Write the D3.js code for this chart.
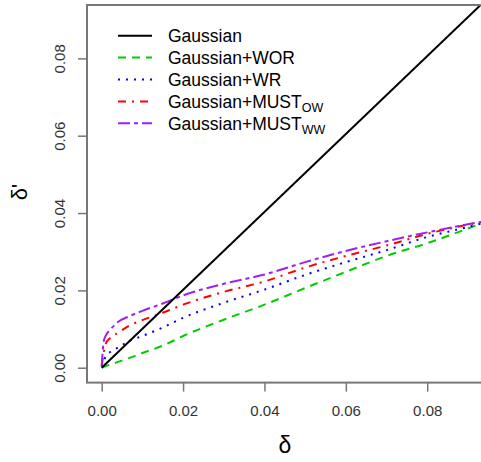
<!DOCTYPE html>
<html>
<head>
<meta charset="utf-8">
<script src="https://cdn.jsdelivr.net/npm/d3@7"></script>
<style>
  html, body { margin: 0; padding: 0; background: #fff; }
  svg { display: block; }
  text { font-family: "Liberation Sans", Arial, sans-serif; }
</style>
</head>
<body>
<svg id="chart" width="481" height="462"></svg>
<script>
// ---- data ----
const delta = [0, 0.0005, 0.001, 0.002, 0.004, 0.007, 0.01, 0.015, 0.02, 0.03, 0.04, 0.05, 0.06, 0.07, 0.08, 0.09, 0.095];
const gaussianX = [0, 0.095];
const gaussianY = [0, 0.0957];
const worY  = [0, 0.0002, 0.0004, 0.0008, 0.0015, 0.0026, 0.0038, 0.0057, 0.0082, 0.0124, 0.0163, 0.0206, 0.0248, 0.0289, 0.0322, 0.0360, 0.0380];
const wrY   = [0.0003, 0.0016, 0.0030, 0.0040, 0.0052, 0.0070, 0.0082, 0.0104, 0.0129, 0.0168, 0.0202, 0.0240, 0.0273, 0.0304, 0.0338, 0.0364, 0.0378];
const owY   = [0.0005, 0.0040, 0.0062, 0.0076, 0.0090, 0.0110, 0.0123, 0.0142, 0.0163, 0.0196, 0.0223, 0.0259, 0.0289, 0.0316, 0.0346, 0.0370, 0.0380];
const wwY   = [0.0005, 0.0068, 0.0083, 0.0097, 0.0118, 0.0134, 0.0147, 0.0166, 0.0187, 0.0217, 0.0241, 0.0273, 0.0302, 0.0327, 0.0350, 0.0371, 0.0380];
const xTicks = [0, 0.02, 0.04, 0.06, 0.08];
const yTicks = [0, 0.02, 0.04, 0.06, 0.08];
const legendMain = ["Gaussian", "Gaussian+WOR", "Gaussian+WR", "Gaussian+MUST", "Gaussian+MUST"];
const legendSub  = ["", "", "", "OW", "WW"];
const seriesColors = ["#000000", "#00CD00", "#0000FF", "#FF0000", "#A020F0"];
const seriesDash = [null, "8,6", "2,6", "8,6,2,6", "12,4,4,4"];

// ---- layout ----
const svg = d3.select("#chart");
const plot = { left: 87, right: 485, top: 5, bottom: 382.6 };
const x = d3.scaleLinear().domain([-0.00361, 0.0942]).range([plot.left, plot.right]);
const y = d3.scaleLinear().domain([-0.00385, 0.0938]).range([plot.bottom, plot.top]);

svg.append("defs").append("clipPath").attr("id", "clip")
  .append("rect").attr("x", plot.left).attr("y", plot.top)
  .attr("width", plot.right - plot.left).attr("height", plot.bottom - plot.top);

const line = d3.line().x(d => x(d[0])).y(d => y(d[1])).curve(d3.curveMonotoneX);
const series = [
  d3.zip(gaussianX, gaussianY),
  d3.zip(delta, worY),
  d3.zip(delta, wrY),
  d3.zip(delta, owY),
  d3.zip(delta, wwY)
];

const lines = svg.append("g").attr("clip-path", "url(#clip)");
[1, 2, 3, 4, 0].forEach(i => {
  lines.append("path")
    .attr("d", line(series[i]))
    .attr("fill", "none")
    .attr("stroke", seriesColors[i])
    .attr("stroke-width", 2)
    .attr("stroke-dasharray", seriesDash[i]);
});

// ---- box ----
const axisColor = "#777";
svg.append("rect")
  .attr("x", plot.left).attr("y", plot.top)
  .attr("width", plot.right - plot.left).attr("height", plot.bottom - plot.top)
  .attr("fill", "none").attr("stroke", axisColor).attr("stroke-width", 2);

// ---- axes ----
const fmt = d3.format(".2f");
const gx = svg.append("g").attr("transform", `translate(0,${plot.bottom})`)
  .call(d3.axisBottom(x).tickValues(xTicks).tickFormat(fmt).tickSize(9).tickPadding(13.5));
gx.select(".domain").remove();
gx.selectAll("line").attr("stroke", axisColor).attr("stroke-width", 1.5);
gx.selectAll("text").attr("font-size", 15).attr("fill", "#333")
  .attr("font-family", "Liberation Sans, Arial, sans-serif");

const gy = svg.append("g").attr("transform", `translate(${plot.left},0)`)
  .call(d3.axisLeft(y).tickValues(yTicks).tickFormat(fmt).tickSize(9));
gy.select(".domain").remove();
gy.selectAll("line").attr("stroke", axisColor).attr("stroke-width", 1.5);
gy.selectAll("text")
  .attr("x", null).attr("dy", null)
  .attr("transform", "translate(-28,0) rotate(-90)")
  .attr("text-anchor", "middle")
  .attr("dominant-baseline", "central")
  .attr("font-size", 15).attr("fill", "#333")
  .attr("font-family", "Liberation Sans, Arial, sans-serif");

// ---- axis titles ----
svg.append("text")
  .attr("x", 285).attr("y", 453)
  .attr("text-anchor", "middle")
  .attr("font-family", "Liberation Serif, Times New Roman, serif")
  .attr("font-size", 23)
  .text("δ");
svg.append("text")
  .attr("transform", "translate(27,192) rotate(-90)")
  .attr("text-anchor", "middle")
  .attr("font-family", "Liberation Serif, Times New Roman, serif")
  .attr("font-size", 22)
  .text("δ'");

// ---- legend ----
const leg = svg.append("g");
const rowY0 = 35.7, rowStep = 21.9;
legendMain.forEach((lab, i) => {
  const ry = rowY0 + i * rowStep;
  leg.append("line")
    .attr("x1", 118).attr("x2", 152).attr("y1", ry).attr("y2", ry)
    .attr("stroke", seriesColors[i]).attr("stroke-width", 2)
    .attr("stroke-dasharray", seriesDash[i]);
  const t = leg.append("text")
    .attr("x", 168).attr("y", ry + 6.2)
    .attr("font-size", 17.5).attr("fill", "#000");
  t.append("tspan").text(lab);
  if (legendSub[i]) {
    t.append("tspan").attr("font-size", 12.5).attr("dy", 4).text(legendSub[i]);
  }
});
</script>
</body>
</html>
